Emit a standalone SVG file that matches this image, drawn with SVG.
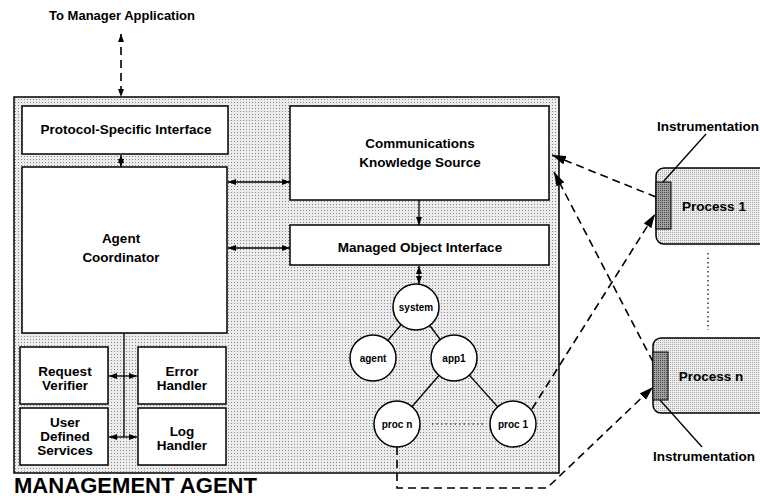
<svg xmlns="http://www.w3.org/2000/svg" width="760" height="498" viewBox="0 0 760 498">
  <defs>
    <pattern id="stipple" width="3" height="3" patternUnits="userSpaceOnUse">
      <rect width="3" height="3" fill="#ececec"/>
      <rect width="1" height="1" fill="#888"/>
    </pattern>
    <pattern id="stippleProc" width="2" height="2" patternUnits="userSpaceOnUse">
      <rect width="2" height="2" fill="#ededed"/>
      <rect width="1" height="1" fill="#a6a6a6"/>
    </pattern>
    <pattern id="stippleDark" width="2" height="2" patternUnits="userSpaceOnUse">
      <rect width="2" height="2" fill="#a0a0a0"/>
      <rect width="1" height="1" fill="#484848"/>
    </pattern>
    <marker id="ah" markerUnits="userSpaceOnUse" markerWidth="8" markerHeight="6" refX="8" refY="3" orient="auto-start-reverse">
      <path d="M0,0 L8,3 L0,6 Z" fill="#000"/>
    </marker>
    <marker id="ahBig" markerUnits="userSpaceOnUse" markerWidth="14" markerHeight="9" refX="14" refY="4.5" orient="auto-start-reverse">
      <path d="M0,0 L14,4.5 L0,9 Z" fill="#000"/>
    </marker>
  </defs>
  <style>
    text { font-family: "Liberation Sans", Arial, sans-serif; font-weight: bold; fill: #000; }
    .lbl { font-size: 13.5px; text-anchor: middle; }
    .node-lbl { font-size: 10px; text-anchor: middle; }
    .box { fill: #fff; stroke: #000; stroke-width: 1.5; }
    .circ { fill: #fff; stroke: #000; stroke-width: 1.5; }
    .link { stroke: #000; stroke-width: 1.3; fill: none; }
    .dash { stroke: #000; stroke-width: 1.6; fill: none; stroke-dasharray: 8 5; }
    .dot { stroke: #000; stroke-width: 1.2; fill: none; stroke-dasharray: 1.5 3; }
  </style>

  <!-- agent enclosure -->
  <g id="agent-frame">
    <rect x="14" y="97" width="545" height="376" fill="url(#stipple)" stroke="#000" stroke-width="1.5"/>
    <text x="14" y="493" style="font-size:21.5px" textLength="243" lengthAdjust="spacingAndGlyphs">MANAGEMENT AGENT</text>
  </g>

  <g id="manager-label">
    <text x="122" y="20" style="font-size:13px" text-anchor="middle">To Manager Application</text>
  </g>

  <!-- connectors -->
  <g id="connectors">
    <line class="dash" x1="121" y1="34" x2="121" y2="97" marker-start="url(#ah)" marker-end="url(#ah)"/>
    <line class="link" x1="121" y1="155" x2="121" y2="167" marker-start="url(#ah)" marker-end="url(#ah)"/>
    <line class="link" x1="228" y1="182" x2="290" y2="182" marker-start="url(#ah)" marker-end="url(#ah)"/>
    <line class="link" x1="228" y1="248" x2="290" y2="248" marker-start="url(#ah)" marker-end="url(#ah)"/>
    <line class="link" x1="419" y1="200" x2="419" y2="225" marker-end="url(#ah)"/>
    <line class="link" x1="419" y1="266" x2="419" y2="284" marker-start="url(#ah)" marker-end="url(#ah)"/>
    <!-- coordinator bus to service boxes -->
    <line class="link" x1="124" y1="333" x2="124" y2="437"/>
    <line class="link" x1="109" y1="376" x2="137" y2="376" marker-start="url(#ah)" marker-end="url(#ah)"/>
    <line class="link" x1="109" y1="437" x2="137" y2="437" marker-start="url(#ah)" marker-end="url(#ah)"/>
    <!-- MIB tree edges -->
    <line class="link" x1="416" y1="307" x2="373" y2="358"/>
    <line class="link" x1="416" y1="307" x2="454" y2="358"/>
    <line class="link" x1="454" y1="358" x2="397" y2="424"/>
    <line class="link" x1="454" y1="358" x2="513" y2="424"/>
    <line class="dot" x1="432" y1="424" x2="486" y2="424"/>
    <!-- instrumentation links -->
    <line class="dash" x1="656" y1="197" x2="552" y2="155" marker-end="url(#ahBig)"/>
    <line class="dash" x1="653" y1="362" x2="554" y2="172" marker-end="url(#ahBig)"/>
    <line class="dash" x1="532" y1="409" x2="655" y2="214" marker-end="url(#ahBig)"/>
    <polyline class="dash" points="397,447 397,488 547,488 653,387" marker-end="url(#ahBig)"/>
    <line class="dot" x1="708" y1="253" x2="708" y2="330"/>
  </g>

  <g id="protocol-interface">
    <rect class="box" x="22" y="106" width="206" height="48"/>
    <text class="lbl" x="126" y="134">Protocol-Specific Interface</text>
  </g>

  <g id="agent-coordinator">
    <rect class="box" x="22" y="167" width="205" height="166"/>
    <text class="lbl" x="121" y="243">Agent</text>
    <text class="lbl" x="121" y="262">Coordinator</text>
  </g>

  <g id="comm-knowledge-source">
    <rect class="box" x="290" y="106" width="259" height="94"/>
    <text class="lbl" x="420" y="148">Communications</text>
    <text class="lbl" x="420" y="167">Knowledge Source</text>
  </g>

  <g id="managed-object-interface">
    <rect class="box" x="290" y="225" width="259" height="40"/>
    <text class="lbl" x="420" y="252">Managed Object Interface</text>
  </g>

  <g id="request-verifier">
    <rect class="box" x="20" y="347" width="88" height="57"/>
    <text class="lbl" x="65" y="376">Request</text>
    <text class="lbl" x="65" y="390">Verifier</text>
  </g>

  <g id="error-handler">
    <rect class="box" x="138" y="347" width="88" height="57"/>
    <text class="lbl" x="182" y="376">Error</text>
    <text class="lbl" x="182" y="390">Handler</text>
  </g>

  <g id="user-services">
    <rect class="box" x="20" y="408" width="88" height="57"/>
    <text class="lbl" x="65" y="427">User</text>
    <text class="lbl" x="65" y="441">Defined</text>
    <text class="lbl" x="65" y="455">Services</text>
  </g>

  <g id="log-handler">
    <rect class="box" x="138" y="408" width="88" height="57"/>
    <text class="lbl" x="182" y="436">Log</text>
    <text class="lbl" x="182" y="450">Handler</text>
  </g>

  <g id="node-system">
    <circle class="circ" cx="416" cy="307" r="23"/>
    <text class="node-lbl" x="416" y="310.5">system</text>
  </g>
  <g id="node-agent">
    <circle class="circ" cx="373" cy="358" r="23"/>
    <text class="node-lbl" x="373" y="361.5">agent</text>
  </g>
  <g id="node-app1">
    <circle class="circ" cx="454" cy="358" r="23"/>
    <text class="node-lbl" x="454" y="361.5">app1</text>
  </g>
  <g id="node-procn">
    <circle class="circ" cx="397" cy="424" r="23"/>
    <text class="node-lbl" x="397" y="427.5">proc n</text>
  </g>
  <g id="node-proc1">
    <circle class="circ" cx="513" cy="424" r="23"/>
    <text class="node-lbl" x="513" y="427.5">proc 1</text>
  </g>

  <g id="process-1">
    <rect x="656" y="168" width="120" height="76" rx="8" fill="url(#stippleProc)" stroke="#000" stroke-width="1.5"/>
    <rect x="656" y="182" width="15" height="47" fill="url(#stippleDark)" stroke="#000" stroke-width="1"/>
    <text class="lbl" x="714" y="211">Process 1</text>
    <line class="link" x1="663" y1="182" x2="706" y2="134" stroke-width="1"/>
    <text x="657" y="131" style="font-size:13.5px">Instrumentation</text>
  </g>

  <g id="process-n">
    <rect x="653" y="338" width="120" height="75" rx="8" fill="url(#stippleProc)" stroke="#000" stroke-width="1.5"/>
    <rect x="653" y="352" width="15" height="48" fill="url(#stippleDark)" stroke="#000" stroke-width="1"/>
    <text class="lbl" x="711" y="381">Process n</text>
    <line class="link" x1="660" y1="400" x2="702" y2="447" stroke-width="1"/>
    <text x="653" y="461" style="font-size:13.5px">Instrumentation</text>
  </g>
</svg>
